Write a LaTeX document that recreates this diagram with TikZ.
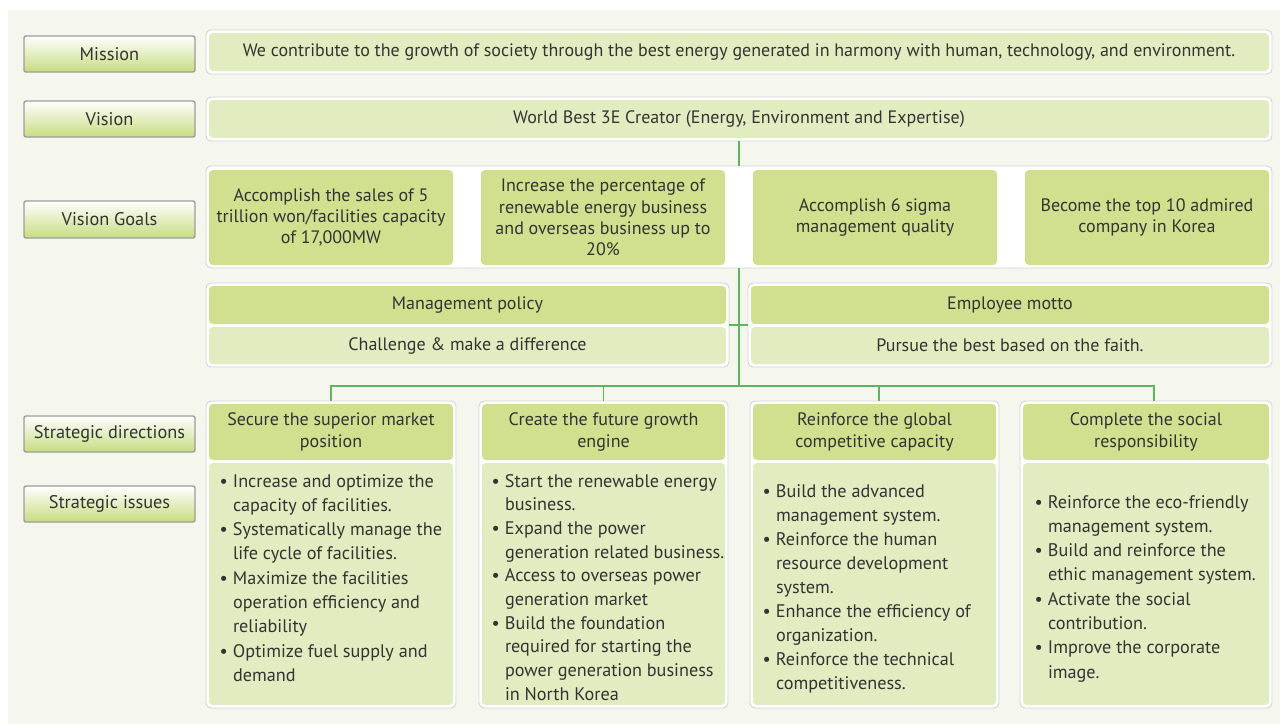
\documentclass[tikz,border=0pt]{standalone}
\usepackage{fontspec}
\setmainfont{PT Sans}
\definecolor{bg}{HTML}{F5F7EF}
\definecolor{dk}{HTML}{D0E08E}
\definecolor{lt}{HTML}{E1ECC0}
\definecolor{labg}{HTML}{C6DC80}
\definecolor{labb}{HTML}{9C9C9C}
\definecolor{outb}{HTML}{D3D3D3}
\definecolor{ln}{HTML}{5DB55D}
\definecolor{txt}{HTML}{333333}
\newcommand\fsz[2]{\fontsize{#1}{#2}\selectfont}
\newcommand\bx[7]{\node[#6, minimum width={(#4-#2)*1pt}, minimum height={(#5-#3)*1pt}] (#1) at ({(#2+#4)/2},{(#3+#5)/2}) {#7};}
\newcommand\bul{\makebox[13.5pt][l]{\textbullet}}
\tikzset{
  lab/.style={draw=labb, line width=1.4pt, rounded corners=2pt, top color=white, bottom color=labg, inner sep=0, outer sep=0, font=\fsz{18.3}{21}, text=txt},
  outer/.style={draw=outb, fill=white, rounded corners=5pt, line width=0.9pt, inner sep=0, outer sep=0},
  dkb/.style={fill=dk, rounded corners=4pt, inner sep=0, outer sep=0, text=txt, font=\fsz{18}{21.3}, align=center},
  ltb/.style={fill=lt, rounded corners=4pt, inner sep=0, outer sep=0, text=txt, font=\fsz{18}{21.3}, align=center},
  conn/.style={draw=ln, line width=1.1pt},
  body/.style={anchor=base west, inner sep=0, outer sep=0, text=txt, font=\fsz{18.2}{24.3}}
}
\begin{document}
\begin{tikzpicture}[x=1pt,y=-1pt]
\useasboundingbox (0,0) rectangle (1280,724);
\fill[white] (0,0) rectangle (1280,724);
\fill[bg] (8,10) rectangle (1280,724);
% left labels
\bx{lmission}{24}{36}{195}{72}{lab}{Mission}
\bx{lvision}{24}{101}{195}{137}{lab}{Vision}
\bx{lgoals}{24}{201}{195}{238}{lab}{Vision Goals}
\bx{ldir}{24}{416}{195}{452}{lab}{Strategic directions}
\bx{liss}{24}{486}{195}{522}{lab}{Strategic issues}
% mission / vision
\bx{mission}{206}{30}{1272}{74}{outer}{}
\bx{missioni}{209}{33}{1269}{71}{ltb}{We contribute to the growth of society through the best energy generated in harmony with human, technology, and environment.}
\bx{vision}{206}{97}{1272}{141}{outer}{}
\bx{visioni}{209}{100}{1269}{138}{ltb}{World Best 3E Creator (Energy, Environment and Expertise)}
% goals
\bx{goals}{206}{166}{1272}{268}{outer}{}
\bx{g1}{209}{170}{453}{265}{dkb}{Accomplish the sales of 5\\trillion won/facilities capacity\\of 17,000MW}
\bx{g2}{481}{170}{725}{265}{dkb}{Increase the percentage of\\renewable energy business\\and overseas business up to\\20\%}
\bx{g3}{753}{170}{997}{265}{dkb}{Accomplish 6 sigma\\management quality}
\bx{g4}{1025}{170}{1269}{265}{dkb}{Become the top 10 admired\\company in Korea}
% policy / motto
\bx{mgmt}{206}{283}{729}{367}{outer}{}
\bx{mgmth}{209}{286}{726}{324}{dkb}{Management policy}
\bx{mgmtb}{209}{327}{726}{364}{ltb}{Challenge \& make a difference}
\bx{emp}{748}{283}{1272}{367}{outer}{}
\bx{emph}{751}{286}{1269}{324}{dkb}{Employee motto}
\bx{empb}{751}{327}{1269}{364}{ltb}{Pursue the best based on the faith.}
% strategic boxes
\bx{s1}{206}{401}{456}{708}{outer}{}
\bx{s1h}{209}{404}{453}{460}{dkb}{Secure the superior market\\position}
\bx{s1b}{209}{463}{453}{705}{ltb}{}
\bx{s2}{479}{401}{728}{708}{outer}{}
\bx{s2h}{482}{404}{725}{460}{dkb}{Create the future growth\\engine}
\bx{s2b}{482}{463}{725}{705}{ltb}{}
\bx{s3}{750}{401}{999}{708}{outer}{}
\bx{s3h}{753}{404}{996}{460}{dkb}{Reinforce the global\\competitive capacity}
\bx{s3b}{753}{463}{996}{705}{ltb}{}
\bx{s4}{1020}{401}{1272}{708}{outer}{}
\bx{s4h}{1023}{404}{1269}{460}{dkb}{Complete the social\\responsibility}
\bx{s4b}{1023}{463}{1269}{705}{ltb}{}
% issue texts
\node[body] (t1) at (219.5,487) {\begin{tabular}[t]{@{}l@{}l@{}}
\bul & Increase and optimize the\\
 & capacity of facilities.\\
\bul & Systematically manage the\\
 & life cycle of facilities.\\
\bul & Maximize the facilities\\
 & operation efficiency and\\
 & reliability\\
\bul & Optimize fuel supply and\\
 & demand
\end{tabular}};
\node[body, font=\fsz{18.2}{23.7}] (t2) at (491.5,487) {\begin{tabular}[t]{@{}l@{}l@{}}
\bul & Start the renewable energy\\
 & business.\\
\bul & Expand the power\\
 & generation related business.\\
\bul & Access to overseas power\\
 & generation market\\
\bul & Build the foundation\\
 & required for starting the\\
 & power generation business\\
 & in North Korea
\end{tabular}};
\node[body, font=\fsz{18.2}{24.1}] (t3) at (762.5,497) {\begin{tabular}[t]{@{}l@{}l@{}}
\bul & Build the advanced\\
 & management system.\\
\bul & Reinforce the human\\
 & resource development\\
 & system.\\
\bul & Enhance the efficiency of\\
 & organization.\\
\bul & Reinforce the technical\\
 & competitiveness.
\end{tabular}};
\node[body] (t4) at (1034.5,508) {\begin{tabular}[t]{@{}l@{}l@{}}
\bul & Reinforce the eco-friendly\\
 & management system.\\
\bul & Build and reinforce the\\
 & ethic management system.\\
\bul & Activate the social\\
 & contribution.\\
\bul & Improve the corporate\\
 & image.
\end{tabular}};
% connectors
\coordinate (j) at (739,386);
\draw[conn] (vision.south) -- (goals.north);
\draw[conn] (goals.south) -- (j);
\draw[conn] (mgmt.east) -- (emp.west);
\draw[conn] (s1.north) -- (s1.north |- j) -- ([xshift=8pt]s4.north |- j) -- ([xshift=8pt]s4.north);
\draw[conn] (s2.north) -- (s2.north |- j);
\draw[conn] ([xshift=4.5pt]s3.north) -- ([xshift=4.5pt]s3.north |- j);
\end{tikzpicture}
\end{document}
